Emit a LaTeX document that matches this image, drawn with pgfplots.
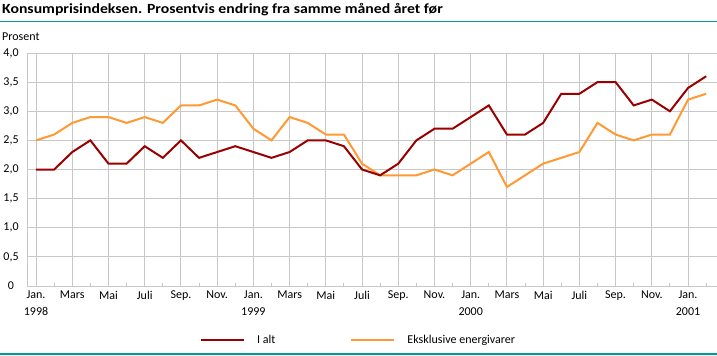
\documentclass[border=0pt]{standalone}
\usepackage{fontspec}
\setmainfont{Carlito}
\newfontfamily\titlefont[FakeStretch=1.125]{Carlito}
\usepackage{pgfplots}
\pgfplotsset{compat=1.18}
\definecolor{teal1}{RGB}{0,153,153}
\definecolor{gridgray}{RGB}{200,200,200}
\definecolor{darkred}{RGB}{153,0,0}
\definecolor{orng}{RGB}{255,153,51}
\begin{document}
\begin{tikzpicture}[x=1bp,y=1bp]
\useasboundingbox (0,0) rectangle (717,355);
\node[anchor=base west, inner sep=0pt, font=\titlefont\fontsize{14bp}{16bp}\selectfont\bfseries] at (2,341.7) {Konsumprisindeksen. Prosentvis endring fra samme måned året før};
\draw[teal1, line width=1.5bp] (0,333.5) -- (717,333.5);
\draw[teal1, line width=1.5bp] (0,1) -- (717,1);
\node[anchor=base west, inner sep=0pt, font=\fontsize{12bp}{14bp}\selectfont] at (2,315) {Prosent};
\begin{axis}[
  at={(27bp,69bp)}, anchor=south west,
  scale only axis, width=690bp, height=233bp,
  xmin=-0.5, xmax=37.6, ymin=0, ymax=4,
  axis lines*=left, axis line style={draw=gridgray, line width=1bp, -},
  xmajorgrids, ymajorgrids,
  grid style={gridgray, line width=1bp},
  major tick length=0pt, minor tick length=3bp, tick align=inside,
  tick style={gridgray, line width=1bp},
  xtick={0,2,...,36}, minor xtick={1,3,...,37},
  xticklabels={{Jan.\\1998},Mars,Mai,Juli,Sep.,Nov.,{Jan.\\1999},Mars,Mai,Juli,Sep.,Nov.,{Jan.\\2000},Mars,Mai,Juli,Sep.,Nov.,{Jan.\\2001}},
  xticklabel style={font=\fontsize{12bp}{16.5bp}\selectfont, align=center, inner sep=0pt, anchor=north, yshift=-5bp},
  ytick={0,0.5,1,1.5,2,2.5,3,3.5,4},
  yticklabels={0,{0,5},{1,0},{1,5},{2,0},{2,5},{3,0},{3,5},{4,0}},
  yticklabel style={font=\fontsize{12bp}{14bp}\selectfont, anchor=center, inner sep=0pt, xshift=-16bp},
  reverse legend, legend columns=2, legend cell align=left,
  legend style={at={(0.2507,-0.2318)}, anchor=west, draw=none, fill=none, inner sep=0pt,
    nodes={inner sep=0pt},
    font=\fontsize{12bp}{14bp}\selectfont,
    /tikz/every odd column/.append style={column sep=12bp},
    /tikz/every even column/.append style={column sep=75bp}},
  legend image code/.code={\draw[#1] (0bp,0bp) -- (43bp,0bp);},
]
\addplot[orng, line width=2bp] coordinates {
(0,2.5)(1,2.6)(2,2.8)(3,2.9)(4,2.9)(5,2.8)(6,2.9)(7,2.8)(8,3.1)(9,3.1)(10,3.2)(11,3.1)
(12,2.7)(13,2.5)(14,2.9)(15,2.8)(16,2.6)(17,2.6)(18,2.1)(19,1.9)(20,1.9)(21,1.9)(22,2.0)(23,1.9)
(24,2.1)(25,2.3)(26,1.7)(27,1.9)(28,2.1)(29,2.2)(30,2.3)(31,2.8)(32,2.6)(33,2.5)(34,2.6)(35,2.6)
(36,3.2)(37,3.3)};
\addlegendentry{Eksklusive energivarer}
\addplot[darkred, line width=2bp] coordinates {
(0,2.0)(1,2.0)(2,2.3)(3,2.5)(4,2.1)(5,2.1)(6,2.4)(7,2.2)(8,2.5)(9,2.2)(10,2.3)(11,2.4)
(12,2.3)(13,2.2)(14,2.3)(15,2.5)(16,2.5)(17,2.4)(18,2.0)(19,1.9)(20,2.1)(21,2.5)(22,2.7)(23,2.7)
(24,2.9)(25,3.1)(26,2.6)(27,2.6)(28,2.8)(29,3.3)(30,3.3)(31,3.5)(32,3.5)(33,3.1)(34,3.2)(35,3.0)
(36,3.4)(37,3.6)};
\addlegendentry{I alt}
\end{axis}
\end{tikzpicture}
\end{document}
